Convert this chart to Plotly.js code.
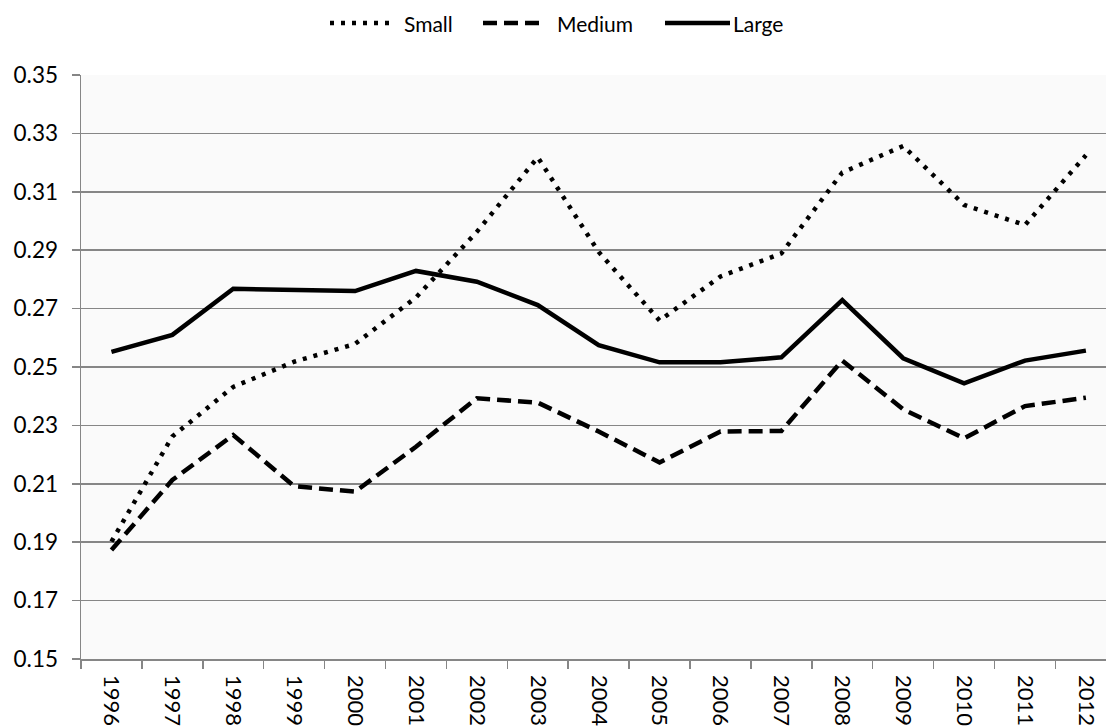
<!DOCTYPE html>
<html>
<head>
<meta charset="utf-8">
<script src="https://cdn.plot.ly/plotly-3.0.1.min.js"></script>
<style>html,body{margin:0;padding:0;background:#fff;}#chart{width:1106px;height:726px;}</style>
</head>
<body>
<div id="chart"></div>
<script>
const years = ["1996","1997","1998","1999","2000","2001","2002","2003","2004","2005","2006","2007","2008","2009","2010","2011","2012"];
const small  = [0.1902,0.2262,0.2432,0.2518,0.2579,0.2738,0.2963,0.3218,0.2894,0.2659,0.2810,0.2889,0.3166,0.3257,0.3055,0.2986,0.3225];
const medium = [0.1873,0.2113,0.2267,0.2092,0.2073,0.2227,0.2393,0.2378,0.2279,0.2173,0.2279,0.2281,0.2522,0.2355,0.2256,0.2366,0.2395];
const large  = [0.2552,0.2610,0.2768,0.2764,0.2760,0.2829,0.2792,0.2712,0.2575,0.2516,0.2516,0.2533,0.2729,0.2530,0.2444,0.2522,0.2556];
const yTicks = [0.15,0.17,0.19,0.21,0.23,0.25,0.27,0.29,0.31,0.33,0.35];
const seriesNames = ["Small", "Medium", "Large"];
const seriesDash = ["4px,7px", "14px,7px", "solid"];

const grey = "#868686";
const W = 1106, H = 726, ML = 81, MT = 75, MB = 67;
const PW = W - ML, PH = H - MT - MB;
const px = X => (X - ML) / PW;
const py = Y => 1 - (Y - MT) / PH;

const seriesData = [small, medium, large];
const traces = seriesData.map((vals, i) => ({
  x: years, y: vals, name: seriesNames[i], type: "scatter", mode: "lines",
  showlegend: false,
  line: {color: "#000", width: 4.5, dash: seriesDash[i]}
}));

// custom legend (longer samples like the original)
const legendY = 23;
const legendItems = [
  {x0: 330, x1: 390, tx: 402},
  {x0: 483, x1: 543, tx: 555},
  {x0: 665, x1: 730, tx: 731}
];
const shapes = legendItems.map((it, i) => ({
  type: "line", xref: "paper", yref: "paper",
  x0: px(it.x0), x1: px(it.x1), y0: py(legendY), y1: py(legendY),
  line: {color: "#000", width: 4.5, dash: seriesDash[i]}
}));
const annotations = legendItems.map((it, i) => ({
  xref: "paper", yref: "paper", x: px(it.tx), y: py(legendY),
  xanchor: "left", yanchor: "middle", showarrow: false,
  text: seriesNames[i], font: {size: 21, color: "#000"}
}));

const layout = {
  width: W, height: H,
  margin: {l: ML, r: 0, t: MT, b: MB, pad: 0},
  paper_bgcolor: "#ffffff",
  plot_bgcolor: "#fafafa",
  font: {family: "Lato, 'Open Sans', sans-serif", size: 22, color: "#000"},
  showlegend: false,
  shapes: shapes,
  annotations: annotations,
  xaxis: {type: "category", range: [-0.5, 16.33], tickson: "boundaries",
          ticks: "outside", ticklen: 8, tickwidth: 1.5, tickcolor: grey,
          tickangle: 90, ticklabelstandoff: 10,
          showgrid: false, showline: true, linecolor: grey, linewidth: 1.5,
          zeroline: false, fixedrange: true, tickfont: {size: 22}},
  yaxis: {range: [0.15, 0.35], tickvals: yTicks, tickformat: ".2f",
          ticks: "outside", ticklen: 8, tickwidth: 1.5, tickcolor: grey,
          ticklabelstandoff: 9,
          showgrid: true, gridcolor: grey, gridwidth: 1.5,
          showline: true, linecolor: grey, linewidth: 1.5, zeroline: false,
          fixedrange: true, tickfont: {size: 22.5}}
};
Plotly.newPlot("chart", traces, layout, {staticPlot: true, displayModeBar: false});
</script>
</body>
</html>
